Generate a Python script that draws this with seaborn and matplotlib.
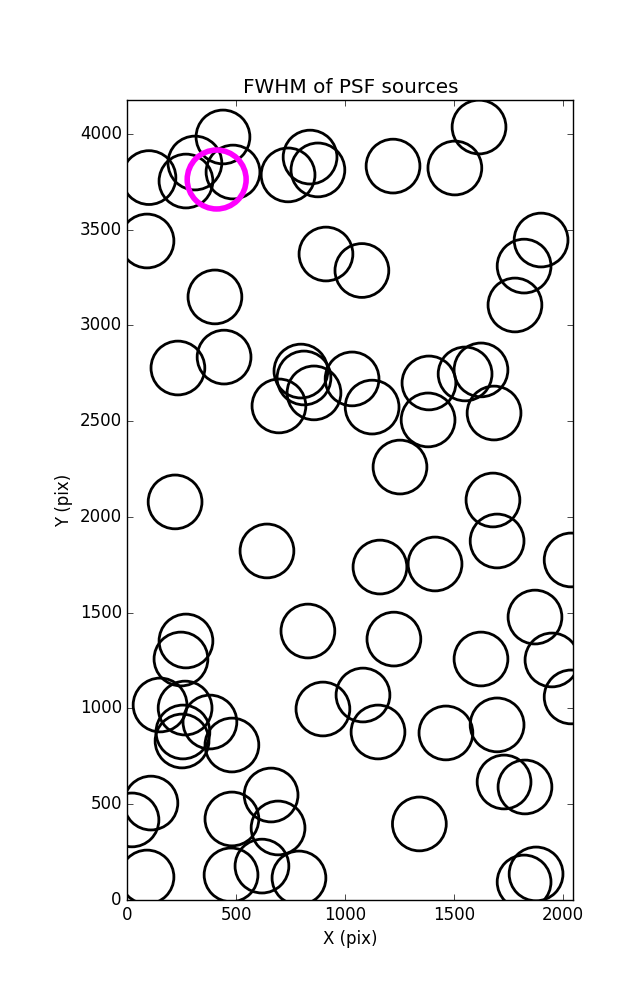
import numpy as np
import matplotlib
matplotlib.use("Agg")
import matplotlib.pyplot as plt
import seaborn as sns

# source positions (detector pixels)
x_src = [99, 439, 310, 269, 485, 738, 839, 875, 1220, 1504, 1615,
         90, 912, 1077, 402, 1900, 1822, 1780,
         232, 444, 797, 811, 857, 696, 1032, 1124, 1385, 1381, 1551, 1624, 1684,
         1252, 1679, 1698, 219, 641, 1160, 1413, 2038,
         829, 269, 246, 1224, 1624, 1950, 1872, 2038, 1082, 898, 1151, 1463, 1698,
         1730, 1826, 150, 265, 255, 251, 379, 480,
         108, 21, 90, 480, 660, 692, 476, 618, 788, 1341, 1822, 1877]
y_src = [3771, 3983, 3847, 3753, 3800, 3785, 3878, 3811, 3831, 3821, 4035,
         3440, 3372, 3286, 3148, 3445, 3309, 3106,
         2777, 2834, 2761, 2725, 2647, 2579, 2720, 2573, 2699, 2506, 2746, 2767, 2542,
         2260, 2088, 1874, 2078, 1822, 1738, 1754, 1775,
         1404, 1352, 1258, 1362, 1258, 1253, 1477, 1060, 1070, 997, 877, 872, 914,
         616, 590, 1018, 1002, 877, 830, 929, 809,
         506, 418, 120, 423, 548, 376, 131, 177, 115, 397, 94, 136]

# highlighted source
x_sel = [410]
y_sel = [3761]

plt.style.use("classic")
plt.rcParams["font.family"] = ["DejaVu Sans"]

fig = plt.figure(figsize=(6.37, 10), dpi=100, facecolor="white")
ax = fig.add_axes([0.2, 0.1, 0.7, 0.8])

sns.scatterplot(x=x_src, y=y_src, s=1500, marker="o", facecolor="none",
                edgecolor="black", linewidth=2, ax=ax)
sns.scatterplot(x=x_sel, y=y_sel, s=1800, marker="o", facecolor="none",
                edgecolor="magenta", linewidth=4, ax=ax)

ax.set_xlim(0, 2048)
ax.set_ylim(0, 4176)
ax.set_xticks([0, 500, 1000, 1500, 2000])
ax.set_yticks([0, 500, 1000, 1500, 2000, 2500, 3000, 3500, 4000])
ax.set_xlabel("X (pix)")
ax.set_ylabel("Y (pix)")
ax.set_title("FWHM of PSF sources")

fig.savefig("out.png", dpi=100, facecolor="white")
plt.close(fig)
